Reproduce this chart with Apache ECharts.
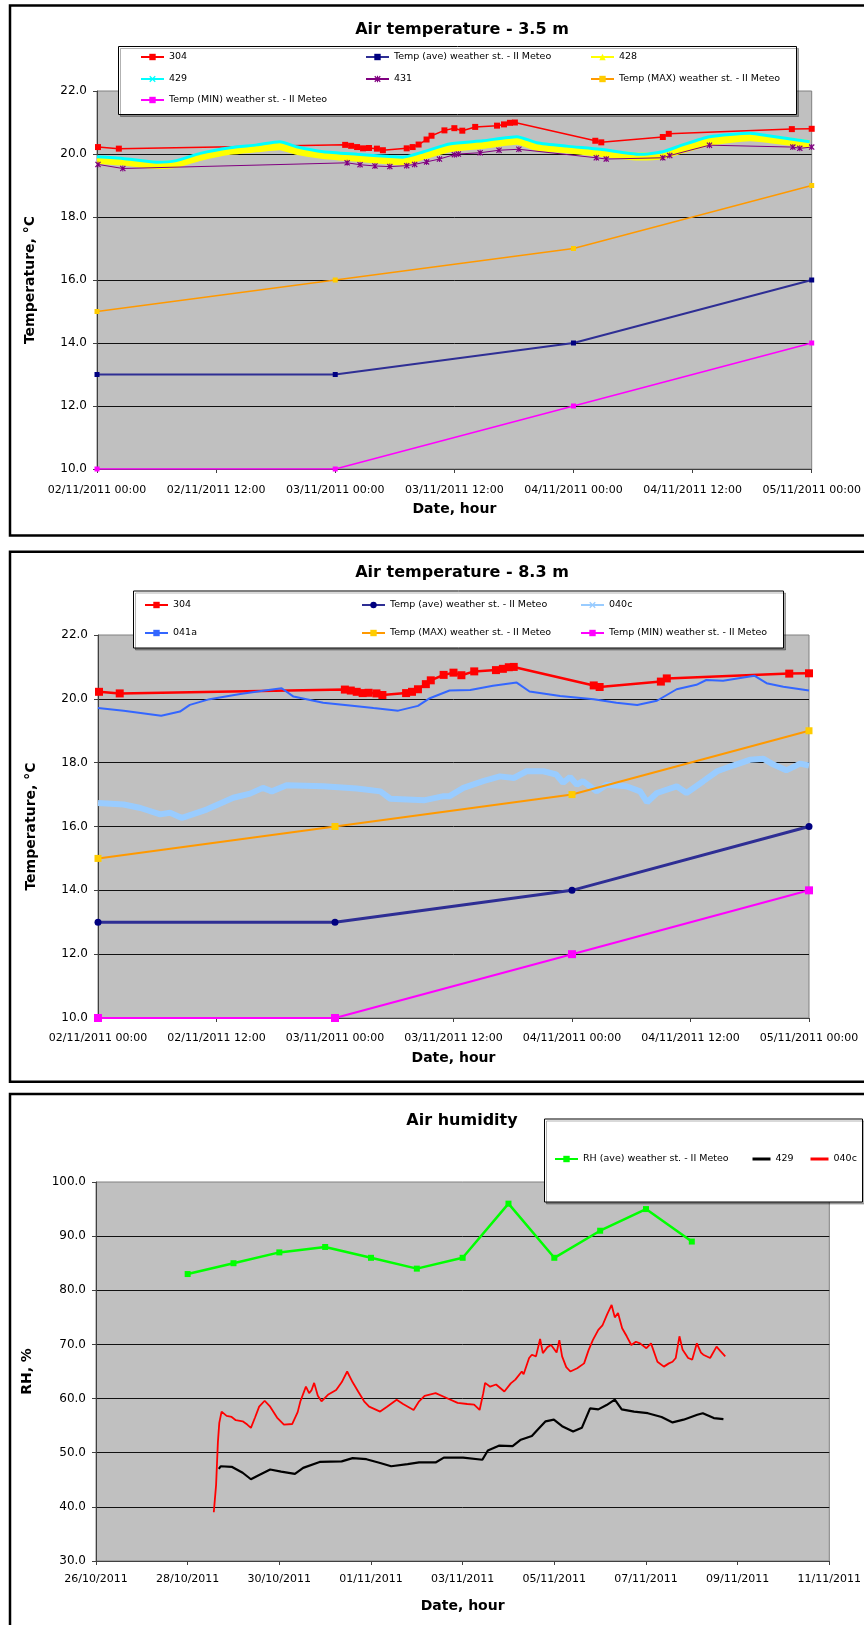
<!DOCTYPE html>
<html>
<head>
<meta charset="utf-8">
<title>Air temperature and humidity</title>
<script src="https://cdn.jsdelivr.net/npm/echarts@6.0.0/dist/echarts.min.js"></script>
<style>
  html, body { margin: 0; padding: 0; background: #fff; }
  body { width: 864px; height: 1625px; position: relative; overflow: hidden; }
  .panel { position: absolute; left: 0; width: 864px; }
</style>
</head>
<body>
<div id="chart_t35" class="panel" style="top:0;height:545px"></div>
<div id="chart_t83" class="panel" style="top:545px;height:545px"></div>
<div id="chart_rh" class="panel" style="top:1090px;height:535px"></div>
<script>
// ---- data: temperature charts, x = hours since 02/11/2011 00:00 ----
const stHours = [0, 24, 48, 72];
const tempAve = [13, 13, 14, 16];
const tempMax = [15, 16, 17, 19];
const tempMin = [10, 10, 12, 14];

const h304 = [0.1, 2.2, 25.0, 25.6, 26.2, 26.8, 27.4, 28.2, 28.8, 31.2, 31.8, 32.4, 33.2, 33.7, 35.0, 36.0, 36.8, 38.1, 40.3, 41.0, 41.6, 42.1, 50.2, 50.8, 57.0, 57.6, 70.0, 72.0];
const v304 = [20.22, 20.17, 20.29, 20.26, 20.22, 20.18, 20.19, 20.17, 20.12, 20.18, 20.22, 20.3, 20.46, 20.58, 20.75, 20.82, 20.74, 20.86, 20.9, 20.94, 20.99, 21.0, 20.42, 20.37, 20.54, 20.64, 20.79, 20.8];

// 428 / 429 at 3.5 m
const hBand = [0, 2.6, 6.0, 8.0, 10.4, 13.4, 16.1, 18.4, 20.1, 22.8, 26.2, 29.5, 30.8, 32.9, 35.5, 38.9, 42.3, 44.3, 47.3, 50.7, 54.7, 57.0, 59.0, 61.7, 65.8, 67.8, 71.8];
const v428 = [19.81, 19.76, 19.65, 19.69, 19.91, 20.1, 20.18, 20.25, 20.1, 19.97, 19.88, 19.79, 19.76, 19.95, 20.18, 20.29, 20.42, 20.23, 20.15, 20.04, 19.92, 19.97, 20.15, 20.39, 20.53, 20.47, 20.31];
const v429 = [19.91, 19.86, 19.74, 19.79, 20.02, 20.2, 20.29, 20.39, 20.23, 20.07, 19.99, 19.92, 19.9, 20.07, 20.32, 20.42, 20.55, 20.36, 20.25, 20.15, 19.99, 20.07, 20.29, 20.55, 20.66, 20.57, 20.39];

// 431 at 3.5 m
const h431 = [0.1, 2.6, 25.2, 26.5, 28.0, 29.5, 31.2, 32.0, 33.2, 34.5, 36.0, 36.4, 38.6, 40.5, 42.5, 50.3, 51.3, 57.0, 57.7, 61.7, 70.1, 70.8, 72.0];
const v431 = [19.67, 19.54, 19.72, 19.66, 19.62, 19.6, 19.63, 19.67, 19.75, 19.84, 19.98, 20.0, 20.04, 20.12, 20.15, 19.88, 19.84, 19.88, 19.95, 20.28, 20.22, 20.18, 20.22];

// 041a at 8.3 m
const h041a = [0, 2.6, 6.4, 8.3, 9.3, 11.3, 14.4, 16.7, 18.6, 19.8, 22.8, 25.5, 27.9, 30.4, 32.4, 33.6, 35.6, 37.7, 40.0, 42.4, 43.7, 46.8, 50.2, 52.5, 54.6, 56.6, 58.6, 60.6, 61.6, 63.3, 66.0, 66.5, 67.7, 69.4, 72.0];
const v041a = [19.71, 19.63, 19.47, 19.6, 19.81, 19.99, 20.15, 20.25, 20.33, 20.07, 19.88, 19.79, 19.71, 19.63, 19.78, 20.02, 20.26, 20.28, 20.41, 20.51, 20.23, 20.09, 19.99, 19.88, 19.81, 19.94, 20.3, 20.44, 20.59, 20.57, 20.7, 20.72, 20.49, 20.38, 20.26];

// 040c at 8.3 m
const h040c = [0, 2.6, 4.3, 6.3, 7.3, 8.5, 11.0, 13.7, 15.4, 16.7, 17.6, 19.1, 22.8, 26.2, 28.6, 29.6, 33.0, 35.0, 35.6, 37.0, 39.0, 40.7, 42.1, 43.4, 45.1, 46.4, 47.1, 47.8, 48.5, 49.1, 50.5, 51.5, 53.5, 54.9, 55.6, 56.6, 58.6, 59.6, 61.3, 62.7, 64.3, 66.0, 67.4, 68.4, 69.7, 71.1, 72.0];
const v040c = [16.74, 16.69, 16.58, 16.38, 16.43, 16.27, 16.53, 16.9, 17.03, 17.21, 17.1, 17.29, 17.26, 17.19, 17.1, 16.87, 16.82, 16.95, 16.95, 17.21, 17.42, 17.57, 17.52, 17.73, 17.73, 17.63, 17.37, 17.55, 17.31, 17.42, 17.1, 17.31, 17.26, 17.1, 16.76, 17.05, 17.26, 17.05, 17.42, 17.73, 17.91, 18.09, 18.12, 17.94, 17.76, 17.97, 17.91];

// ---- data: humidity chart, x = days since 26/10/2011 00:00 ----
const dRhAve = [2, 3, 4, 5, 6, 7, 8, 9, 10, 11, 12, 13];
const vRhAve = [83, 85, 87, 88, 86, 84, 86, 96, 86, 91, 95, 89];

const dRh429 = [2.68, 2.72, 2.96, 3.2, 3.38, 3.56, 3.8, 4.04, 4.34, 4.52, 4.88, 5.36, 5.6, 5.9, 6.2, 6.44, 6.8, 7.05, 7.41, 7.59, 8.01, 8.43, 8.55, 8.79, 9.09, 9.27, 9.51, 9.63, 9.81, 9.99, 10.17, 10.41, 10.6, 10.78, 10.96, 11.14, 11.32, 11.47, 11.74, 12.04, 12.34, 12.58, 12.82, 13.12, 13.24, 13.48, 13.69];
const vRh429 = [47.0, 47.5, 47.4, 46.3, 45.1, 45.9, 46.9, 46.5, 46.1, 47.2, 48.3, 48.4, 49.0, 48.8, 48.1, 47.5, 47.9, 48.2, 48.2, 49.1, 49.1, 48.7, 50.4, 51.3, 51.2, 52.4, 53.1, 54.2, 55.8, 56.1, 54.9, 53.9, 54.6, 58.2, 58.0, 58.8, 59.8, 58.0, 57.6, 57.3, 56.6, 55.6, 56.1, 57.0, 57.3, 56.4, 56.2];

const dRh040c = [2.57, 2.62, 2.66, 2.69, 2.74, 2.85, 2.96, 3.05, 3.2, 3.3, 3.38, 3.47, 3.56, 3.68, 3.8, 3.95, 4.1, 4.28, 4.4, 4.46, 4.58, 4.65, 4.7, 4.76, 4.84, 4.92, 5.06, 5.24, 5.36, 5.48, 5.6, 5.72, 5.85, 5.96, 6.2, 6.35, 6.56, 6.7, 6.93, 7.05, 7.17, 7.41, 7.65, 7.89, 8.1, 8.25, 8.37, 8.45, 8.49, 8.6, 8.73, 8.91, 9.05, 9.15, 9.29, 9.33, 9.45, 9.51, 9.6, 9.69, 9.75, 9.85, 9.93, 10.05, 10.11, 10.17, 10.26, 10.35, 10.5, 10.65, 10.75, 10.84, 10.96, 11.05, 11.15, 11.25, 11.32, 11.39, 11.48, 11.58, 11.68, 11.78, 11.87, 12.01, 12.11, 12.25, 12.39, 12.5, 12.58, 12.65, 12.73, 12.8, 12.92, 13.01, 13.11, 13.2, 13.25, 13.4, 13.54, 13.62, 13.73];
const vRh040c = [39.0, 44.0, 52.0, 55.5, 57.6, 56.8, 56.6, 56.0, 55.8, 55.2, 54.6, 56.5, 58.5, 59.6, 58.5, 56.5, 55.2, 55.3, 57.5, 59.5, 62.2, 61.0, 61.5, 62.9, 60.5, 59.5, 60.7, 61.6, 63.0, 65.0, 63.0, 61.3, 59.5, 58.5, 57.6, 58.5, 59.8, 59.0, 57.9, 59.5, 60.5, 61.0, 60.1, 59.2, 59.0, 58.9, 57.9, 61.0, 62.9, 62.2, 62.6, 61.3, 62.8, 63.5, 65.0, 64.5, 67.5, 68.1, 67.8, 71.0, 68.4, 69.5, 69.9, 68.5, 70.8, 67.8, 65.8, 65.0, 65.6, 66.5, 69.0, 70.8, 72.7, 73.5, 75.5, 77.3, 75.0, 75.8, 73.0, 71.5, 69.9, 70.5, 70.2, 69.3, 70.2, 66.8, 65.9, 66.5, 66.8, 67.5, 71.5, 69.0, 67.5, 67.2, 70.2, 68.5, 68.1, 67.5, 69.6, 68.8, 67.8];

// ---- common styles ----
const fontFamily = "DejaVu Sans";
const plotGrey = "#C0C0C0";
const xMark = "path://M0,1.4L1.4,0L5,3.6L8.6,0L10,1.4L6.4,5L10,8.6L8.6,10L5,6.4L1.4,10L0,8.6L3.6,5Z";
const starMark = "path://M0,1.4L1.4,0L5,3.6L8.6,0L10,1.4L6.4,5L10,8.6L8.6,10L5,6.4L1.4,10L0,8.6L3.6,5ZM4.2,0L5.8,0L5.8,10L4.2,10Z";

function zip(xs, ys) {
  return xs.map((x, i) => [x, ys[i]]);
}

function pad(n) {
  return n < 10 ? "0" + n : "" + n;
}

function hourLabel(h) {
  const day = 2 + Math.floor(h / 24);
  return pad(day) + "/11/2011 " + pad(h % 24) + ":00";
}

function dayLabel(d) {
  const dt = new Date(2011, 9, 26 + d);
  return pad(dt.getDate()) + "/" + pad(dt.getMonth() + 1) + "/" + dt.getFullYear();
}

function frame(top, height) {
  return {
    type: "rect",
    shape: { x: 10, y: top, width: 900, height: height },
    style: { fill: "none", stroke: "#000", lineWidth: 2.5 },
    z: 0,
  };
}

function legendBox(x, y, w, h) {
  return {
    type: "rect",
    shape: { x: x, y: y, width: w, height: h },
    style: {
      fill: "#fff",
      stroke: "#000",
      lineWidth: 1,
      shadowColor: "rgba(0,0,0,0.3)",
      shadowOffsetX: 2,
      shadowOffsetY: 2,
    },
    z: 3,
  };
}

function legendItem(name, left, rowY, extra) {
  return Object.assign(
    {
      data: [name],
      left: left,
      top: rowY - 6,
      padding: 0,
      itemWidth: 23,
      itemHeight: 8,
      selectedMode: false,
      textStyle: { fontFamily, fontSize: 9.5, color: "#000" },
      z: 5,
    },
    extra || {}
  );
}

function titleOpt(text, centerY) {
  return {
    text: text,
    left: 462,
    top: centerY - 10,
    textAlign: "center",
    padding: 0,
    textStyle: { fontFamily, fontSize: 16, fontWeight: "bold", color: "#000" },
  };
}

function yAxisOpt(min, max, interval, name, nameGap) {
  return {
    type: "value",
    min: min,
    max: max,
    interval: interval,
    name: name,
    nameLocation: "middle",
    nameGap: nameGap,
    nameTextStyle: { fontFamily, fontSize: 14, fontWeight: "bold", color: "#000" },
    axisLine: { show: true, lineStyle: { color: "#404040", width: 1 } },
    axisTick: { show: true, length: 4, lineStyle: { color: "#404040" } },
    axisLabel: {
      color: "#000",
      fontFamily,
      fontSize: 12,
      margin: 10,
      formatter: (v) => v.toFixed(1),
    },
    splitLine: { show: true, showMaxLine: false, lineStyle: { color: "#111", width: 1 } },
  };
}

function xAxisOpt(min, max, interval, fmt, labelMargin, nameGap) {
  return {
    type: "value",
    min: min,
    max: max,
    interval: interval,
    name: "Date, hour",
    nameLocation: "middle",
    nameGap: nameGap,
    nameTextStyle: { fontFamily, fontSize: 14, fontWeight: "bold", color: "#000" },
    axisLine: { show: true, onZero: false, lineStyle: { color: "#404040", width: 1 } },
    axisTick: { show: true, length: 4, lineStyle: { color: "#404040" } },
    axisLabel: { color: "#000", fontFamily, fontSize: 11, margin: labelMargin, formatter: fmt },
    splitLine: { show: false },
  };
}

function gridOpt(left, top, width, height) {
  return {
    left: left,
    top: top,
    width: width,
    height: height,
    show: true,
    backgroundColor: plotGrey,
    borderColor: "#808080",
    borderWidth: 1,
  };
}

// ---- chart 1: air temperature 3.5 m ----
const chart1 = echarts.init(document.getElementById("chart_t35"));
chart1.setOption({
  animation: false,
  textStyle: { fontFamily },
  title: titleOpt("Air temperature - 3.5 m", 32),
  grid: gridOpt(97, 91, 715, 378),
  xAxis: xAxisOpt(0, 72, 12, hourLabel, 16, 33),
  yAxis: yAxisOpt(10, 22, 2, "Temperature, °C", 60),
  graphic: [frame(5.5, 530), legendBox(118.5, 46.5, 678, 68)],
  legend: [
    legendItem("304", 140, 58),
    legendItem("Temp (ave) weather st. - II Meteo", 365, 58),
    legendItem("428", 590, 58),
    legendItem("429", 140, 80),
    legendItem("431", 365, 80),
    legendItem("Temp (MAX) weather st. - II Meteo", 590, 80),
    legendItem("Temp (MIN) weather st. - II Meteo", 140, 101),
  ],
  series: [
    {
      name: "304",
      type: "line",
      data: zip(h304, v304),
      symbol: "rect",
      symbolSize: 6,
      itemStyle: { color: "#FF0000" },
      lineStyle: { color: "#FF0000", width: 1.5 },
    },
    {
      name: "Temp (ave) weather st. - II Meteo",
      type: "line",
      data: zip(stHours, tempAve),
      symbol: "rect",
      symbolSize: 5,
      itemStyle: { color: "#000080" },
      lineStyle: { color: "#2E2E94", width: 2 },
    },
    {
      name: "428",
      type: "line",
      data: zip(hBand, v428),
      symbol: "triangle",
      showSymbol: false,
      smooth: 0.2,
      itemStyle: { color: "#FFFF00" },
      lineStyle: { color: "#FFFF00", width: 8 },
    },
    {
      name: "429",
      type: "line",
      data: zip(hBand, v429),
      symbol: xMark,
      showSymbol: false,
      smooth: 0.2,
      itemStyle: { color: "#00FFFF" },
      lineStyle: { color: "#00FFFF", width: 3 },
    },
    {
      name: "431",
      type: "line",
      data: zip(h431, v431),
      symbol: starMark,
      symbolSize: 6,
      itemStyle: { color: "#800080" },
      lineStyle: { color: "#800080", width: 1 },
    },
    {
      name: "Temp (MAX) weather st. - II Meteo",
      type: "line",
      data: zip(stHours, tempMax),
      symbol: "rect",
      symbolSize: 5,
      itemStyle: { color: "#FFCC00" },
      lineStyle: { color: "#FF9900", width: 1.5 },
    },
    {
      name: "Temp (MIN) weather st. - II Meteo",
      type: "line",
      data: zip(stHours, tempMin),
      symbol: "rect",
      symbolSize: 5,
      itemStyle: { color: "#FF00FF" },
      lineStyle: { color: "#FF00FF", width: 1.5 },
    },
  ],
});

// ---- chart 2: air temperature 8.3 m ----
const chart2 = echarts.init(document.getElementById("chart_t83"));
chart2.setOption({
  animation: false,
  textStyle: { fontFamily },
  title: titleOpt("Air temperature - 8.3 m", 30),
  grid: gridOpt(98, 90, 711, 383),
  xAxis: xAxisOpt(0, 72, 12, hourLabel, 15, 33),
  yAxis: yAxisOpt(10, 22, 2, "Temperature, °C", 60),
  graphic: [frame(6.7, 530), legendBox(133.5, 46, 650, 57)],
  legend: [
    legendItem("304", 144, 61),
    legendItem("Temp (ave) weather st. - II Meteo", 361, 61),
    legendItem("040c", 580, 61),
    legendItem("041a", 144, 89),
    legendItem("Temp (MAX) weather st. - II Meteo", 361, 89),
    legendItem("Temp (MIN) weather st. - II Meteo", 580, 89),
  ],
  series: [
    {
      name: "304",
      type: "line",
      data: zip(h304, v304),
      symbol: "rect",
      symbolSize: 8,
      itemStyle: { color: "#FF0000" },
      lineStyle: { color: "#FF0000", width: 2.5 },
    },
    {
      name: "Temp (ave) weather st. - II Meteo",
      type: "line",
      data: zip(stHours, tempAve),
      symbol: "circle",
      symbolSize: 7,
      itemStyle: { color: "#000080" },
      lineStyle: { color: "#2E2E94", width: 3 },
    },
    {
      name: "040c",
      type: "line",
      data: zip(h040c, v040c),
      symbol: xMark,
      showSymbol: false,
      itemStyle: { color: "#99CCFF" },
      lineStyle: { color: "#99CCFF", width: 6 },
    },
    {
      name: "041a",
      type: "line",
      data: zip(h041a, v041a),
      symbol: "rect",
      showSymbol: false,
      itemStyle: { color: "#3366FF" },
      lineStyle: { color: "#3366FF", width: 2 },
    },
    {
      name: "Temp (MAX) weather st. - II Meteo",
      type: "line",
      data: zip(stHours, tempMax),
      symbol: "rect",
      symbolSize: 7,
      itemStyle: { color: "#FFCC00" },
      lineStyle: { color: "#FF9900", width: 2 },
    },
    {
      name: "Temp (MIN) weather st. - II Meteo",
      type: "line",
      data: zip(stHours, tempMin),
      symbol: "rect",
      symbolSize: 8,
      itemStyle: { color: "#FF00FF" },
      lineStyle: { color: "#FF00FF", width: 2 },
    },
  ],
});

// ---- chart 3: air humidity ----
const chart3 = echarts.init(document.getElementById("chart_rh"));
chart3.setOption({
  animation: false,
  textStyle: { fontFamily },
  title: titleOpt("Air humidity", 32.7),
  grid: gridOpt(96, 92, 735, 379),
  xAxis: xAxisOpt(0, 16, 2, dayLabel, 13, 38),
  yAxis: yAxisOpt(30, 100, 10, "RH, %", 62),
  graphic: [frame(4, 600), legendBox(544.5, 29, 318, 83)],
  legend: [
    legendItem("RH (ave) weather st. - II Meteo", 554, 70),
    legendItem("429", 752.5, 70, { itemWidth: 18, itemHeight: 3, icon: "rect" }),
    legendItem("040c", 810.5, 70, { itemWidth: 18, itemHeight: 3, icon: "rect" }),
  ],
  series: [
    {
      name: "RH (ave) weather st. - II Meteo",
      type: "line",
      data: zip(dRhAve, vRhAve),
      symbol: "rect",
      symbolSize: 6,
      itemStyle: { color: "#00FF00" },
      lineStyle: { color: "#00FF00", width: 2.5 },
    },
    {
      name: "429",
      type: "line",
      data: zip(dRh429, vRh429),
      showSymbol: false,
      itemStyle: { color: "#000000" },
      lineStyle: { color: "#000000", width: 2.2 },
    },
    {
      name: "040c",
      type: "line",
      data: zip(dRh040c, vRh040c),
      showSymbol: false,
      itemStyle: { color: "#FF0000" },
      lineStyle: { color: "#FF0000", width: 1.8 },
    },
  ],
});
</script>
</body>
</html>
